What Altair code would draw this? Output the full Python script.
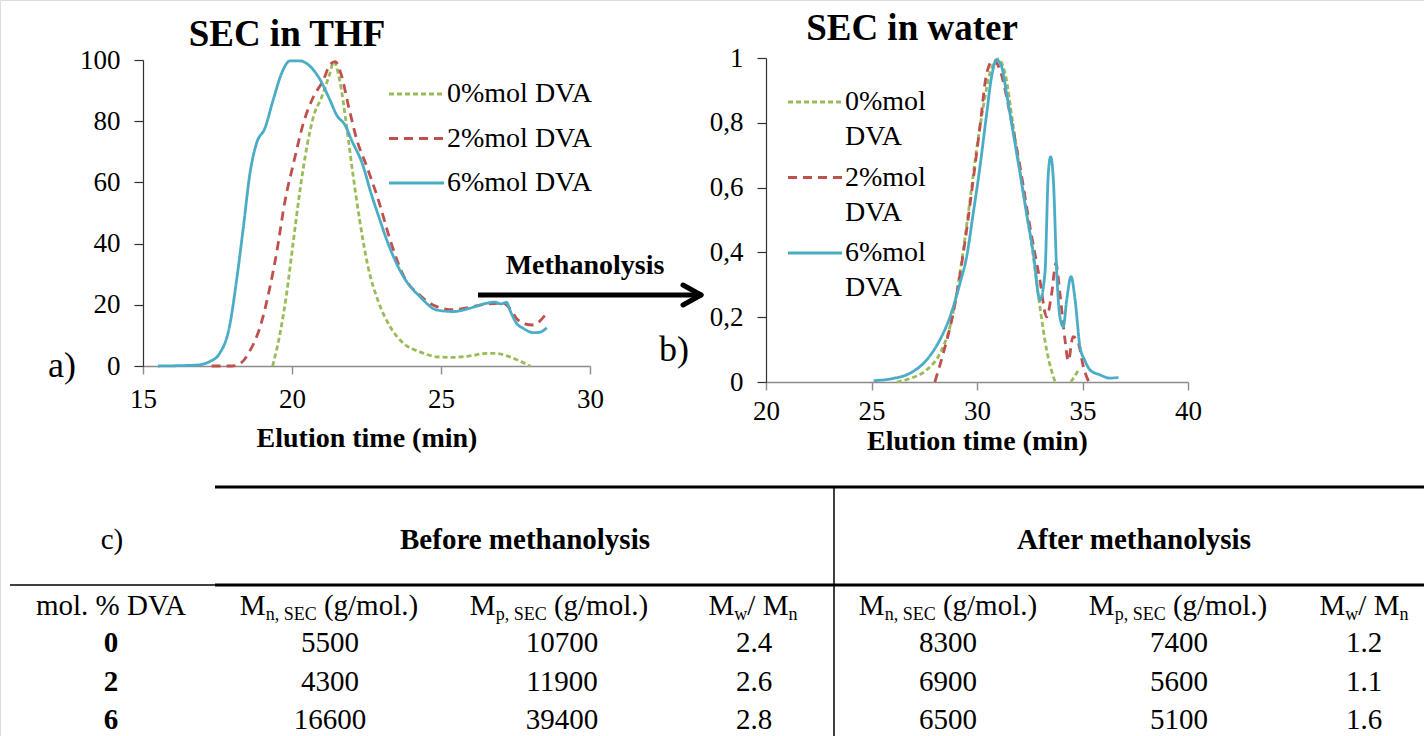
import altair as alt
import pandas as pd

W, H = 1424, 736
FONT = "'Liberation Serif', 'Times New Roman', Times, serif"

# ---------------- data ----------------
series = ["0%mol DVA", "2%mol DVA", "6%mol DVA"]
colors = ["#9BBB59", "#C0504D", "#4BACC6"]
dashes = [[5, 3], [9, 6], [1, 0]]

# a) SEC in THF
thf_t_0 = [19.35, 19.6, 19.82, 20.05, 20.27, 20.5, 20.72, 21.0, 21.27, 21.4, 21.6, 21.82, 22.04, 22.27, 22.55, 22.9, 23.29, 23.74, 24.3, 24.86, 25.41, 25.97, 26.53, 26.87, 27.31, 27.76, 28.0]
thf_v_0 = [0, 10.7, 23.7, 41.2, 57.5, 71.7, 81.5, 88.0, 95.6, 99.5, 93.4, 79.3, 63.0, 47.7, 32.5, 21.0, 12.9, 7.4, 4.6, 3.0, 2.8, 3.3, 4.1, 4.1, 3.0, 1.1, 0]
thf_t_2 = [17.3, 18.0, 18.25, 18.59, 18.93, 19.26, 19.48, 19.77, 20.05, 20.38, 20.72, 21.05, 21.27, 21.45, 21.67, 21.9, 22.18, 22.51, 22.9, 23.3, 23.74, 24.3, 24.86, 25.41, 25.97, 26.53, 27.09, 27.31, 27.54, 27.76, 28.1, 28.3, 28.49]
thf_v_2 = [0, 0, 0.7, 5.0, 12.8, 25.8, 36.8, 54.2, 66.2, 79.3, 88.0, 93.4, 98.4, 99.5, 94.6, 84.8, 73.8, 65.2, 54.2, 41.0, 29.5, 23.0, 19.4, 18.4, 19.2, 20.2, 20.5, 18.8, 15.5, 13.9, 13.4, 14.5, 16.6]
thf_t_6 = [15.5, 16.8, 17.25, 17.57, 17.9, 18.14, 18.37, 18.59, 18.81, 19.09, 19.37, 19.65, 19.93, 20.27, 20.6, 20.94, 21.27, 21.5, 21.78, 22.0, 22.4, 22.62, 22.95, 23.18, 23.74, 24.3, 24.86, 25.41, 25.97, 26.53, 26.8, 27.0, 27.2, 27.31, 27.54, 27.76, 28.1, 28.3, 28.55]
thf_v_6 = [0, 0.3, 1.5, 4.1, 12.8, 28.0, 45.5, 63.0, 72.8, 77.7, 87.0, 95.6, 99.7, 99.7, 98.0, 93.6, 87.0, 82.0, 78.7, 73.8, 65.0, 57.5, 47.7, 41.2, 29.2, 22.6, 18.3, 17.8, 18.9, 20.5, 20.9, 20.3, 20.8, 18.3, 13.9, 12.3, 10.9, 11.0, 12.5]

# b) SEC in water
wat_t_0 = [26.2, 26.8, 27.61, 28.24, 28.72, 29.19, 29.67, 29.98, 30.3, 30.61, 31.0, 31.33, 31.72, 32.2, 32.67, 32.98, 33.3, 33.7]
wat_v_0 = [0, 0.01, 0.037, 0.088, 0.171, 0.336, 0.562, 0.717, 0.85, 0.953, 0.997, 0.953, 0.788, 0.582, 0.387, 0.233, 0.099, 0]
wat_t_0b = [34.45, 34.85]
wat_v_0b = [0, 0.04]
wat_t_2 = [28.0, 28.4, 28.87, 29.35, 29.82, 30.14, 30.46, 30.77, 31.09, 31.56, 32.04, 32.51, 32.98, 33.3, 33.54, 33.74, 33.93, 34.17, 34.33, 34.55, 34.8, 35.05, 35.3]
wat_v_2 = [0, 0.088, 0.212, 0.397, 0.624, 0.788, 0.953, 0.994, 0.963, 0.829, 0.664, 0.479, 0.315, 0.201, 0.274, 0.366, 0.274, 0.13, 0.065, 0.14, 0.12, 0.045, 0]
wat_t_6 = [25.1, 26.03, 26.82, 27.61, 28.24, 28.72, 29.19, 29.51, 29.82, 30.14, 30.46, 30.69, 30.93, 31.17, 31.4, 31.72, 32.04, 32.35, 32.67, 32.98, 33.22, 33.38, 33.49, 33.62, 33.78, 33.93, 34.09, 34.25, 34.46, 34.65, 34.88, 35.1, 35.36, 35.83, 36.3, 36.7]
wat_v_6 = [0.004, 0.011, 0.027, 0.068, 0.13, 0.201, 0.304, 0.387, 0.52, 0.664, 0.829, 0.942, 0.994, 0.973, 0.891, 0.767, 0.644, 0.52, 0.397, 0.253, 0.336, 0.644, 0.695, 0.623, 0.336, 0.201, 0.171, 0.253, 0.325, 0.253, 0.109, 0.068, 0.037, 0.022, 0.012, 0.014]

# c) table
dva = ["0", "2", "6"]
mn_before = ["5500", "4300", "16600"]
mp_before = ["10700", "11900", "39400"]
disp_before = ["2.4", "2.6", "2.8"]
mn_after = ["8300", "6900", "6500"]
mp_after = ["7400", "5600", "5100"]
disp_after = ["1.2", "1.1", "1.6"]


def to_long(parts):
    rows = []
    for name, seg, ts, vs in parts:
        for t, v in zip(ts, vs):
            rows.append({"series": name, "seg": f"{name}-{seg}", "t": t, "v": v})
    return pd.DataFrame(rows)


df_a = to_long([(series[0], 0, thf_t_0, thf_v_0),
                (series[1], 0, thf_t_2, thf_v_2),
                (series[2], 0, thf_t_6, thf_v_6)])
df_b = to_long([(series[0], 0, wat_t_0, wat_v_0),
                (series[0], 1, wat_t_0b, wat_v_0b),
                (series[1], 0, wat_t_2, wat_v_2),
                (series[2], 0, wat_t_6, wat_v_6)])

color_enc = alt.Color("series:N", scale=alt.Scale(domain=series, range=colors), legend=None)
dash_enc = alt.StrokeDash("series:N", scale=alt.Scale(domain=series, range=dashes), legend=None)


def axis_x(offset, values, label_pad, title_pad):
    return alt.Axis(orient="bottom", offset=offset, values=values, grid=False,
                    domainColor="#8C8C8C", domainWidth=1.4, tickColor="#8C8C8C", tickWidth=1.4,
                    tickSize=8, labelFont=FONT, labelFontSize=27, labelColor="black",
                    labelPadding=label_pad, labelFlush=False, labelOverlap=False,
                    title="Elution time (min)", titleFont=FONT, titleFontSize=28,
                    titleFontWeight="bold", titleColor="black", titlePadding=title_pad)


def axis_y(offset, values, expr=None):
    kw = dict(orient="left", offset=offset, values=values, grid=False,
              domainColor="#303030", domainWidth=1.2, tickColor="#303030", tickWidth=1.2,
              tickSize=9, labelFont=FONT, labelFontSize=27, labelColor="black",
              labelPadding=14, labelFlush=False, labelOverlap=False, title=None)
    if expr:
        kw["labelExpr"] = expr
    return alt.Axis(**kw)


lines_a = alt.Chart(df_a).mark_line(strokeWidth=2.8, interpolate="monotone").encode(
    x=alt.X("t:Q", scale=alt.Scale(domain=[15, 30], range=[143, 590], nice=False, zero=False),
            axis=axis_x(366 - H, [15, 20, 25, 30], 12, 12)),
    y=alt.Y("v:Q", scale=alt.Scale(domain=[0, 100], range=[366, 60], nice=False, zero=False),
            axis=axis_y(-143, [0, 20, 40, 60, 80, 100])),
    color=color_enc, strokeDash=dash_enc, detail="seg:N")

lines_b = alt.Chart(df_b).mark_line(strokeWidth=2.8, interpolate="monotone").encode(
    x=alt.X("t:Q", scale=alt.Scale(domain=[20, 40], range=[766, 1188], nice=False, zero=False),
            axis=axis_x(382 - H, [20, 25, 30, 35, 40], 8, 3)),
    y=alt.Y("v:Q", scale=alt.Scale(domain=[0, 1], range=[382, 58], nice=False, zero=False),
            axis=axis_y(-766, [0, 0.2, 0.4, 0.6, 0.8, 1],
                        "replace(format(datum.value, '~g'), '.', ',')")),
    color=color_enc, strokeDash=dash_enc, detail="seg:N")

# legends
leg_df = pd.DataFrame({"series": series,
                       "l1": [s.split(" ")[0] for s in series],
                       "l2": [s.split(" ")[1] for s in series]})
ya = alt.Y("series:N", scale=alt.Scale(type="point", domain=series, range=[94, 183], padding=0), axis=None)
yb = alt.Y("series:N", scale=alt.Scale(type="point", domain=series, range=[102, 253], padding=0), axis=None)

leg_a_sym = alt.Chart(leg_df).mark_rule(strokeWidth=2.8).encode(
    x=alt.value(389), x2=alt.value(444), y=ya, color=color_enc, strokeDash=dash_enc)
leg_a_txt = alt.Chart(leg_df).mark_text(font=FONT, fontSize=28, align="left", baseline="middle", color="black").encode(
    x=alt.value(447), y=ya, text="series:N")
leg_b_sym = alt.Chart(leg_df).mark_rule(strokeWidth=2.8).encode(
    x=alt.value(788), x2=alt.value(842), y=yb, color=color_enc, strokeDash=dash_enc)
leg_b_txt1 = alt.Chart(leg_df).mark_text(font=FONT, fontSize=28, align="left", baseline="middle", color="black").encode(
    x=alt.value(845), y=yb, text="l1:N")
leg_b_txt2 = alt.Chart(leg_df).mark_text(font=FONT, fontSize=28, align="left", baseline="middle", color="black", dy=35).encode(
    x=alt.value(845), y=yb, text="l2:N")

one = pd.DataFrame({"k": [0]})


def label(text, x, y, size, bold=False, align="center", baseline="middle"):
    return alt.Chart(one).mark_text(text=text, font=FONT, fontSize=size,
                                    fontWeight="bold" if bold else "normal",
                                    align=align, baseline=baseline, color="black").encode(
        x=alt.value(x), y=alt.value(y))


def rule(x, x2, y, y2, w, color="black", cap="butt"):
    return alt.Chart(one).mark_rule(strokeWidth=w, color=color, strokeCap=cap).encode(
        x=alt.value(x), x2=alt.value(x2), y=alt.value(y), y2=alt.value(y2))


annotations = [
    label("SEC in THF", 287, 35, 37, bold=True),
    label("SEC in water", 912, 29, 37, bold=True),
    label("a)", 62, 366, 36),
    label("b)", 674, 350, 36),
    label("Methanolysis", 585, 266, 28, bold=True),
    rule(478, 698, 295, 295, 5),
    rule(683, 701, 285, 295, 5, cap="round"),
    rule(683, 701, 305, 295, 5, cap="round"),
]

# ---------------- table ----------------
table_layers = [
    rule(215, W, 487, 487, 3),
    rule(10, 215, 585, 585, 1.5),
    rule(215, W, 585, 585, 3),
    rule(834, 834, 487, H, 1.5),
    label("c)", 112, 540, 29),
    label("Before methanolysis", 525, 540, 29, bold=True),
    label("After methanolysis", 1134, 540, 29, bold=True),
    label("mol. % DVA", 111, 606, 29),
]

TW = {" ": 0.25, "(": 0.333, ")": 0.333, "/": 0.278, ".": 0.25, ",": 0.25, "%": 0.833,
      "M": 0.889, "S": 0.556, "E": 0.611, "C": 0.667, "g": 0.5, "m": 0.778, "o": 0.5,
      "l": 0.278, "n": 0.5, "p": 0.5, "w": 0.722}


def text_width(s, size):
    return sum(TW.get(c, 0.5) for c in s) * size


def header(pieces, center, base_y):
    total = sum(text_width(t, s) for t, s, _ in pieces)
    x = center - total / 2
    out = []
    for t, s, dy in pieces:
        lead = len(t) - len(t.lstrip(" "))
        out.append(label(t.lstrip(" "), x + lead * 0.25 * s, base_y + dy, s,
                         align="left", baseline="alphabetic"))
        x += text_width(t, s)
    return out


HB = 615
mn_pieces = [("M", 29, 0), ("n, SEC", 18, 5), (" (g/mol.)", 29, 0)]
mp_pieces = [("M", 29, 0), ("p, SEC", 18, 5), (" (g/mol.)", 29, 0)]
md_pieces = [("M", 29, 0), ("w", 18, 5), ("/ M", 29, 0), ("n", 18, 5)]
for pcs, cx in [(mn_pieces, 329), (mp_pieces, 559), (md_pieces, 753),
                (mn_pieces, 948), (mp_pieces, 1178), (md_pieces, 1364)]:
    table_layers += header(pcs, cx, HB)

yrow = alt.Y("row:N", scale=alt.Scale(type="point", domain=dva, range=[643, 720], padding=0), axis=None)


def column(values, cx, bold=False):
    df = pd.DataFrame({"row": dva, "val": values})
    return alt.Chart(df).mark_text(font=FONT, fontSize=29, fontWeight="bold" if bold else "normal",
                                   align="center", baseline="middle", color="black").encode(
        x=alt.value(cx), y=yrow, text="val:N")


table_layers += [
    column(dva, 111, bold=True),
    column(mn_before, 330),
    column(mp_before, 562),
    column(disp_before, 754),
    column(mn_after, 948),
    column(mp_after, 1179),
    column(disp_after, 1364),
]

chart = alt.layer(
    lines_a, lines_b, leg_a_sym, leg_a_txt, leg_b_sym, leg_b_txt1, leg_b_txt2,
    *annotations, *table_layers
).resolve_scale(
    x="independent", y="independent"
).properties(
    width=W, height=H, padding=0,
    autosize=alt.AutoSizeParams(type="none")
).configure_view(strokeWidth=0).configure(background="white")

chart.save("out.html", embed_options={"renderer": "svg", "actions": False})
